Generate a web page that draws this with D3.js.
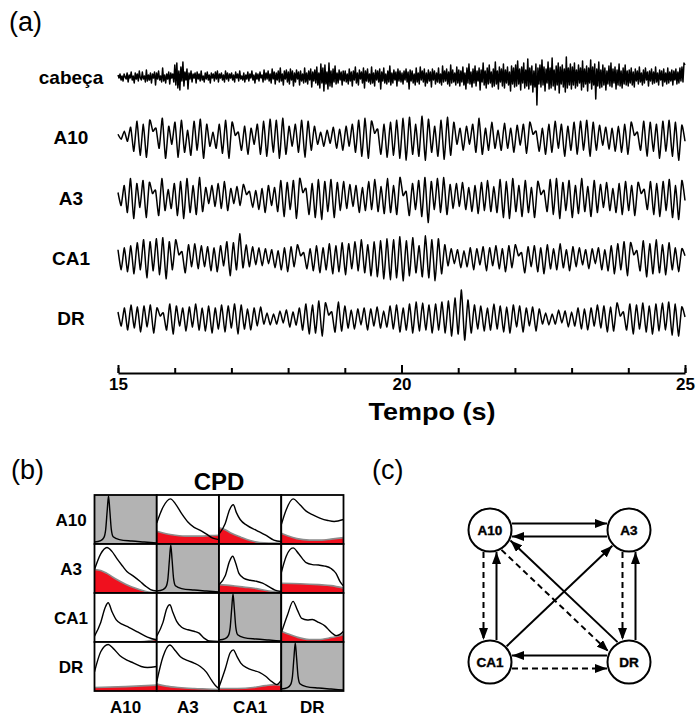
<!DOCTYPE html>
<html><head><meta charset="utf-8">
<script src="https://cdn.jsdelivr.net/npm/d3@7"></script>
<style>
body{margin:0;background:#fff}
svg{display:block}
text{font-family:"Liberation Sans",Arial,Helvetica,sans-serif;fill:#000}
</style>
</head><body>
<svg id="chart" width="699" height="717"></svg>
<script>
// ---------------- DATA ----------------
const channels = ["cabeça", "A10", "A3", "CA1", "DR"];
const timeDomain = [15, 25];
const timeTicks = [15,16,17,18,19,20,21,22,23,24,25];
const timeLabels = [15, 20, 25];
const timeTitle = "Tempo (s)";

const cabeca = [2,-1,3,-3,1,-4,3,0,-2,4,-5,2,-1,5,-3,1,-6,4,-2,3,-4,6,-1,-3,5,-2,1,-5,7,-4,2,-3,4,-6,3,-1,5,-8,4,-2,6,-3,1,-5,9,-4,2,-6,3,-2,5,-7,4,-1,3,-5,
12,-8,14,-11,6,-13,10,-4,15,-9,5,-3,8,-12,4,-2,6,-5,3,-1,4,-6,5,-2,3,-4,6,-3,1,-5,4,-2,5,-3,2,-6,4,-1,3,-4,5,-2,6,-5,3,-1,4,-3,2,-5,6,-2,4,-4,3,-1,
4,-3,2,-5,5,-1,3,-4,6,-2,1,-3,4,-5,2,-2,5,-4,3,-1,6,-3,2,-6,4,-2,3,-4,5,-1,2,-5,7,-3,4,-2,6,-4,3,-6,8,-2,5,-7,4,-3,6,-5,9,-4,3,-8,6,-2,7,-5,
5,-7,8,-3,6,-9,4,-5,7,-2,5,-8,6,-4,3,-6,9,-5,4,-7,6,-3,8,-10,5,-4,7,-6,10,-8,4,-11,13,-6,9,-14,12,-7,5,-12,14,-9,6,-10,8,-5,11,-7,4,-6,7,-3,5,-8,6,-4,
6,-5,3,-7,8,-4,5,-9,6,-3,10,-6,4,-8,7,-2,5,-6,9,-11,6,-4,8,-5,3,-7,10,-6,4,-9,7,-3,6,-5,8,-12,5,-4,9,-6,3,-7,6,-5,11,-8,4,-6,7,-3,5,-9,8,-4,6,-5,
4,-7,6,-3,8,-5,5,-12,7,-4,6,-6,3,-8,9,-5,4,-7,10,-3,6,-5,8,-9,4,-6,7,-4,5,-10,8,-3,6,-7,4,-5,9,-6,3,-8,11,-5,6,-4,8,-7,5,-9,12,-6,7,-5,4,-8,10,-6,
7,-9,6,-5,10,-8,4,-12,9,-6,13,-7,5,-10,8,-6,11,-9,6,-4,9,-13,7,-5,14,-8,6,-11,9,-7,12,-6,5,-10,8,-9,15,-7,6,-12,10,-5,8,-9,13,-11,7,-6,10,-8,5,-14,11,-7,9,-10,
12,-9,16,-7,8,-13,10,-6,14,-11,7,-9,18,-12,9,-8,11,-15,6,-10,13,-28,9,-7,12,-10,17,-8,10,-14,8,-6,15,-12,9,-11,19,-9,7,-13,11,-8,14,-16,10,-7,12,-10,8,-15,20,-11,9,-8,13,-12,
10,-8,14,-11,7,-9,12,-6,9,-13,16,-10,8,-7,11,-14,9,-6,17,-12,10,-8,13,-22,8,-9,15,-11,7,-10,12,-8,9,-13,6,-7,11,-9,14,-10,8,-6,10,-12,7,-8,13,-9,6,-11,9,-7,12,-8,6,-9,
7,-6,9,-8,5,-10,8,-4,6,-7,10,-5,4,-8,7,-6,9,-3,5,-9,6,-4,8,-7,5,-6,10,-5,4,-8,7,-3,6,-9,8,-5,4,-7,9,-6,5,-4,7,-8,6,-3,8,-7,5,-6,9,-4,10,-5,14,12];

const a10 = [3,-2,6,-4,10,-14,16,-18,13,-20,17,6,9,-11,19,-21,11,-7,15,-20,17,-15,7,-18,16,-13,18,
-21,13,-9,5,-11,13,-16,17,-21,15,2,5,-13,11,-17,9,-7,13,-17,16,
-19,18,-15,17,-21,19,-17,11,-9,13,-15,17,-20,16,-13,11,-7,5,-9,7,-6,10,-11,8,
-13,11,-9,13,-15,17,-19,19,-21,16,4,8,-17,13,-20,15,-18,17,-21,19,-23,20,-17,13,-19,21,
-23,18,-15,11,-19,17,-22,20,-18,15,-7,9,-13,11,-7,13,-15,19,-17,9,-13,15,-11,7,
-13,14,-11,9,-15,12,-8,13,-16,15,3,6,-14,9,-17,13,-15,16,-11,13,-19,11,-13,15,-17,16,
-13,17,-19,15,-13,12,-8,10,-12,9,-14,11,-15,13,-17,15,2,5,-13,16,-19,15,-14,13,-21,16,-14,17,-19,15,-23,12,-4];

const a3 = [5,-8,12,-15,19,-21,14,-10,17,-20,15,4,7,-18,19,-13,8,-11,14,-18,16,-21,19,-15,12,-17,20,
-14,10,-6,12,-9,14,-11,16,-13,9,-6,11,-8,13,3,6,-10,7,-12,9,
-15,12,-8,10,-14,17,-19,15,-12,17,-21,19,5,9,-17,14,-20,18,-22,16,-14,18,-20,15,-13,16,
-11,13,-9,12,-15,10,-13,16,-12,18,-14,11,-16,19,-15,12,-17,20,2,6,-18,14,-12,17,-19,20,
-25,16,-12,19,-15,20,-17,13,-11,14,-9,15,-12,10,-14,12,-16,15,-13,17,-14,11,-15,18,
-20,16,-21,19,-14,12,-19,17,-15,10,-20,16,3,7,-14,18,-17,19,-21,15,-13,17,-20,12,-16,19,
-14,11,-19,17,-15,13,-10,15,-13,9,-15,14,-17,16,-13,12,-18,15,4,8,-12,16,-17,14,-19,16,-13,18,-20,12,-22,17,-3];

const ca1 = [8,-12,10,-14,12,-16,15,-12,18,-20,16,-13,19,-17,20,-21,16,-12,18,3,6,-15,13,-9,14,-11,12,
-9,11,-13,10,-14,12,-8,16,-18,15,-12,24,-10,13,-9,11,-7,10,
-8,9,-6,8,-10,7,-12,10,-14,11,-9,13,2,5,-11,9,-13,12,-15,10,-12,14,-16,12,-14,15,
-17,14,-11,16,-13,18,-15,13,-18,16,-19,17,-21,19,-22,18,-20,21,-23,17,-18,20,-15,12,
-19,22,-20,18,-23,19,-16,13,-8,9,-6,8,-10,7,-9,10,-12,9,-7,11,-13,10,-8,12,
-11,9,-14,12,-10,13,2,5,-15,11,-9,12,-14,10,-16,13,-11,9,-12,14,-10,8,-13,11,-9,10,
-7,8,-11,9,-6,10,-12,8,-13,12,-16,14,-12,16,-18,15,3,7,-13,17,-19,14,-16,18,-15,13,-17,15,-12,10,-14,9,2];

const dr = [6,-8,10,-12,13,-10,11,-14,12,-9,13,-15,10,2,5,-12,14,-16,12,-8,10,-13,11,-9,14,-12,10,
-13,12,-15,10,-11,13,-14,12,-10,14,-16,13,-11,9,-12,10,-8,11,
-6,5,-7,4,-6,7,-5,8,-9,6,-7,10,-12,14,-16,13,-15,17,-18,15,3,6,-14,16,-13,12,
-10,8,-11,9,-7,10,-12,9,-8,11,-10,7,-9,12,-11,13,-14,10,-12,14,-15,16,-13,15,
-12,13,-15,14,-12,16,-15,17,-18,20,-16,28,-22,18,-15,13,-11,12,-13,10,-12,14,-11,12,
-14,11,-15,13,-9,12,-14,10,-8,11,-13,9,-6,5,-7,4,-6,8,-5,7,-9,6,-8,10,
-11,9,-12,10,-8,13,-10,12,-14,11,-13,15,2,6,-12,14,-16,13,-11,15,-14,12,-16,14,-13,15,-12,16,-17,14,-18,11,1];

// CPD panel
const cpdNames = ["A10", "A3", "CA1", "DR"];
const cpdTitle = "CPD";
const diagPeak = [[0,0.04],[0.1,0.07],[0.15,0.13],[0.18,0.3],[0.205,0.7],[0.225,0.98],[0.245,0.7],[0.27,0.3],[0.3,0.15],[0.4,0.09],[0.6,0.06],[0.8,0.04],[1,0.02]];
const cpdLineA10 = [null,
  [[0,0.43],[0.1,0.75],[0.22,0.92],[0.3,0.82],[0.4,0.62],[0.5,0.45],[0.6,0.34],[0.7,0.28],[0.8,0.2],[0.9,0.12],[1,0.09]],
  [[0,0.2],[0.1,0.42],[0.17,0.7],[0.23,0.8],[0.28,0.64],[0.34,0.5],[0.45,0.38],[0.6,0.28],[0.75,0.18],[0.88,0.08],[1,0.05]],
  [[0,0.39],[0.08,0.7],[0.19,0.92],[0.3,0.8],[0.4,0.67],[0.5,0.6],[0.62,0.53],[0.75,0.48],[0.85,0.46],[1,0.5]]];
const cpdRedA10 = [null,
  [[0,0.26],[0.15,0.21],[0.3,0.18],[0.5,0.16],[0.7,0.16],[0.85,0.17],[1,0.18]],
  [[0,0.33],[0.1,0.29],[0.2,0.22],[0.35,0.14],[0.5,0.07],[0.65,0.03],[0.8,0.02],[1,0.02]],
  [[0,0.22],[0.1,0.17],[0.25,0.11],[0.45,0.08],[0.65,0.08],[0.8,0.1],[1,0.13]]];
const cpdLineA3 = [
  [[0,0.48],[0.1,0.8],[0.2,0.93],[0.28,0.85],[0.36,0.7],[0.45,0.55],[0.52,0.44],[0.63,0.34],[0.73,0.24],[0.82,0.14],[0.9,0.07],[1,0.04]],
  null,
  [[0,0.17],[0.1,0.35],[0.17,0.65],[0.22,0.75],[0.27,0.6],[0.32,0.4],[0.4,0.3],[0.5,0.26],[0.6,0.24],[0.7,0.2],[0.8,0.13],[0.9,0.06],[1,0.03]],
  [[0,0.41],[0.08,0.75],[0.19,0.92],[0.28,0.8],[0.4,0.62],[0.5,0.58],[0.6,0.57],[0.7,0.55],[0.8,0.5],[0.88,0.4],[0.95,0.22],[1,0.14]]];
const cpdRedA3 = [
  [[0,0.48],[0.1,0.46],[0.2,0.4],[0.35,0.28],[0.5,0.18],[0.65,0.1],[0.8,0.04],[0.9,0.015],[1,0.01]],
  null,
  [[0,0.17],[0.2,0.15],[0.4,0.12],[0.6,0.09],[0.8,0.04],[1,0.02]],
  [[0,0.2],[0.3,0.19],[0.6,0.17],[0.8,0.15],[1,0.1]]];
const cpdLineCA1 = [
  [[0,0.12],[0.1,0.4],[0.17,0.7],[0.22,0.8],[0.28,0.62],[0.35,0.45],[0.45,0.36],[0.55,0.3],[0.7,0.2],[0.85,0.1],[1,0.04]],
  [[0,0.12],[0.1,0.4],[0.16,0.68],[0.21,0.76],[0.26,0.6],[0.32,0.42],[0.4,0.3],[0.5,0.25],[0.6,0.22],[0.68,0.18],[0.76,0.08],[0.85,0.02],[1,0.01]],
  null,
  [[0,0.18],[0.1,0.55],[0.19,0.83],[0.26,0.65],[0.33,0.48],[0.42,0.45],[0.5,0.46],[0.6,0.4],[0.7,0.33],[0.8,0.2],[0.88,0.13],[0.95,0.16],[1,0.22]]];
const cpdRedCA1 = [
  [[0,0],[0.7,0],[0.8,0.01],[0.9,0.03],[1,0.06]],
  [[0,0.005],[1,0.005]],
  null,
  [[0,0.22],[0.1,0.17],[0.25,0.1],[0.45,0.05],[0.6,0.05],[0.8,0.09],[1,0.15]]];
const cpdLineDR = [
  [[0,0.39],[0.1,0.8],[0.22,0.95],[0.3,0.87],[0.41,0.72],[0.52,0.63],[0.63,0.57],[0.75,0.5],[0.85,0.48],[1,0.5]],
  [[0,0.19],[0.1,0.7],[0.21,0.94],[0.3,0.82],[0.38,0.7],[0.5,0.62],[0.6,0.57],[0.7,0.5],[0.8,0.38],[0.88,0.22],[0.95,0.1],[1,0.05]],
  [[0,0.08],[0.1,0.45],[0.18,0.78],[0.23,0.84],[0.29,0.7],[0.35,0.57],[0.45,0.47],[0.55,0.42],[0.65,0.38],[0.75,0.3],[0.85,0.19],[0.93,0.13],[1,0.22]],
  null];
const cpdRedDR = [
  [[0,0.07],[0.5,0.09],[1,0.12]],
  [[0,0.14],[0.15,0.1],[0.35,0.07],[0.6,0.05],[0.8,0.04],[1,0.03]],
  [[0,0.05],[0.3,0.05],[0.55,0.07],[0.75,0.11],[0.9,0.13],[1,0.12]],
  null];

// Network panel
const nodeNames = ["A10", "A3", "CA1", "DR"];
const nodeCol = [0, 1, 0, 1];
const nodeRow = [0, 0, 1, 1];
const edgeSrc = ["A10","A3","A10","CA1","A3","DR","DR","CA1","CA1","DR","A10"];
const edgeTgt = ["A3","A10","CA1","A10","DR","A3","CA1","DR","A3","A10","DR"];
const edgeDashed = [false,false,true,false,true,false,false,true,false,false,true];

// ---------------- DRAW ----------------
const svg = d3.select("#chart");
const FONT = '"Liberation Sans",Arial,Helvetica,sans-serif';

// panel letters
[["(a)",9,31],["(b)",11,479],["(c)",372,479]].forEach(([t,x,y]) =>
  svg.append("text").attr("x",x).attr("y",y).attr("font-size",27).text(t));

// ----- (a) traces -----
const xT = d3.scaleLinear().domain(timeDomain).range([118, 685]);
const rowY = d3.scalePoint().domain(channels).range([77, 318]);
const traces = [cabeca, a10, a3, ca1, dr];

traces.forEach((vals, k) => {
  const base = rowY(channels[k]);
  const y = d3.scaleLinear().domain([-25, 25]).range([base + 25, base - 25]);
  const n = vals.length;
  const tOf = d3.scaleLinear().domain([0, n - 1]).range(timeDomain);
  const line = d3.line()
    .x((d, i) => xT(tOf(i)))
    .y(d => y(d))
    .curve(k === 0 ? d3.curveLinear : d3.curveCardinal.tension(0.45));
  svg.append("path").datum(vals)
    .attr("d", line).attr("fill", "none").attr("stroke", "#000")
    .attr("stroke-width", k === 0 ? 1.5 : 1.5).attr("stroke-linejoin", "round");
  svg.append("text").attr("x", 71).attr("y", base + 7)
    .attr("text-anchor", "middle").attr("font-weight", "bold")
    .attr("font-size", 19).text(channels[k]);
});

// time axis
const axisY = 373;
const gMinor = svg.append("g").attr("transform", `translate(0,${axisY})`)
  .call(d3.axisTop(xT).tickValues(timeTicks).tickSize(5).tickSizeOuter(0).tickFormat(""));
const gMajor = svg.append("g").attr("transform", `translate(0,${axisY})`)
  .call(d3.axisTop(xT).tickValues(timeLabels).tickSize(8).tickSizeOuter(0).tickFormat(""));
[gMinor, gMajor].forEach(g => {
  g.select(".domain").attr("stroke-width", 2.2);
  g.selectAll(".tick line").attr("stroke-width", 2);
});
gMajor.select(".domain").remove();
const gLab = svg.append("g").attr("transform", `translate(0,${axisY})`)
  .call(d3.axisBottom(xT).tickValues(timeLabels).tickSize(0).tickPadding(5).tickFormat(d3.format("d")));
gLab.select(".domain").remove();
gLab.selectAll("text").attr("font-family", FONT).attr("font-size", 17).attr("font-weight", "bold").attr("fill", "#000");
svg.append("text").attr("x", 432).attr("y", 420).attr("text-anchor", "middle")
  .attr("font-weight", "bold").attr("font-size", 24)
  .attr("textLength", 127).attr("lengthAdjust", "spacingAndGlyphs").text(timeTitle);

// ----- (b) CPD matrix -----
const bx = d3.scaleBand().domain(cpdNames).range([94.5, 343.5]);
const by = d3.scaleBand().domain(cpdNames).range([495, 691]);
const lineRows = [cpdLineA10, cpdLineA3, cpdLineCA1, cpdLineDR];
const redRows = [cpdRedA10, cpdRedA3, cpdRedCA1, cpdRedDR];
const defs = svg.append("defs");

svg.append("text").attr("x", bx("A3") + bx.bandwidth()).attr("y", 490)
  .attr("text-anchor", "middle").attr("font-weight", "bold").attr("font-size", 24).text(cpdTitle);

cpdNames.forEach((rn, r) => {
  cpdNames.forEach((cn, c) => {
    const x0 = bx(cn), y0 = by(rn), w = bx.bandwidth(), h = by.bandwidth();
    const fx = d3.scaleLinear().domain([0, 1]).range([x0, x0 + w]);
    const fy = d3.scaleLinear().domain([0, 1]).range([y0 + h, y0]);
    const id = `clip${r}${c}`;
    defs.append("clipPath").attr("id", id).append("rect")
      .attr("x", x0).attr("y", y0).attr("width", w).attr("height", h);
    const g = svg.append("g").attr("clip-path", `url(#${id})`);
    const diag = r === c;
    g.append("rect").attr("x", x0).attr("y", y0).attr("width", w).attr("height", h)
      .attr("fill", diag ? "#b3b3b3" : "#fff");
    const ln = d3.line().x(d => fx(d[0])).y(d => fy(d[1])).curve(d3.curveMonotoneX);
    if (diag) {
      g.append("path").datum(diagPeak).attr("d", ln).attr("fill", "none")
        .attr("stroke", "#000").attr("stroke-width", 1.4);
    } else {
      const red = redRows[r][c];
      const ar = d3.area().x(d => fx(d[0])).y0(fy(0)).y1(d => fy(d[1])).curve(d3.curveMonotoneX);
      g.append("path").datum(red).attr("d", ar).attr("fill", "#f0101e");
      g.append("path").datum(red).attr("d", ln).attr("fill", "none")
        .attr("stroke", "#8c8c8c").attr("stroke-width", 1.6);
      g.append("path").datum(lineRows[r][c]).attr("d", ln).attr("fill", "none")
        .attr("stroke", "#000").attr("stroke-width", 1.4);
    }
    svg.append("rect").attr("x", x0).attr("y", y0).attr("width", w).attr("height", h)
      .attr("fill", "none").attr("stroke", "#000").attr("stroke-width", 1.8);
  });
  svg.append("text").attr("x", 71).attr("y", by(rn) + by.bandwidth() / 2 + 6)
    .attr("text-anchor", "middle").attr("font-weight", "bold").attr("font-size", 17).text(rn);
  svg.append("text").attr("x", bx(rn) + bx.bandwidth() / 2).attr("y", 713)
    .attr("text-anchor", "middle").attr("font-weight", "bold").attr("font-size", 17).text(rn);
});

// ----- (c) network -----
const nx = d3.scaleLinear().domain([0, 1]).range([490, 629]);
const ny = d3.scaleLinear().domain([0, 1]).range([530, 662]);
const R = 21.5;
const pos = {};
nodeNames.forEach((n, i) => pos[n] = [nx(nodeCol[i]), ny(nodeRow[i])]);

defs.append("marker").attr("id", "arrow").attr("viewBox", "0 0 12 9")
  .attr("refX", 12).attr("refY", 4.5).attr("markerWidth", 12).attr("markerHeight", 9)
  .attr("markerUnits", "userSpaceOnUse").attr("orient", "auto")
  .append("path").attr("d", "M0,0L12,4.5L0,9Z").attr("fill", "#000");

const pairKey = new Set(edgeSrc.map((s, i) => s + ">" + edgeTgt[i]));
edgeSrc.forEach((s, i) => {
  const t = edgeTgt[i];
  const [sx, sy] = pos[s], [tx, ty] = pos[t];
  const L = Math.hypot(tx - sx, ty - sy);
  const ux = (tx - sx) / L, uy = (ty - sy) / L;
  const nxv = -uy, nyv = ux;
  let o = pairKey.has(t + ">" + s) ? 6.5 : 0;
  const si = nodeNames.indexOf(s), ti = nodeNames.indexOf(t);
  if (nodeRow[si] === 0 && nodeRow[ti] === 0) o = -o;
  const a = Math.sqrt(R * R - o * o) + 1.5;
  svg.append("line")
    .attr("x1", sx + nxv * o + ux * a).attr("y1", sy + nyv * o + uy * a)
    .attr("x2", tx + nxv * o - ux * a).attr("y2", ty + nyv * o - uy * a)
    .attr("stroke", "#000").attr("stroke-width", 2)
    .attr("stroke-dasharray", edgeDashed[i] ? "6,4" : null)
    .attr("marker-end", "url(#arrow)");
});

nodeNames.forEach(n => {
  svg.append("circle").attr("cx", pos[n][0]).attr("cy", pos[n][1]).attr("r", R)
    .attr("fill", "#fff").attr("stroke", "#000").attr("stroke-width", 2);
  svg.append("text").attr("x", pos[n][0]).attr("y", pos[n][1] + 5)
    .attr("text-anchor", "middle").attr("font-weight", "bold").attr("font-size", 13.5)
    .attr("stroke", "#000").attr("stroke-width", 0.4).text(n);
});
</script>
</body></html>
